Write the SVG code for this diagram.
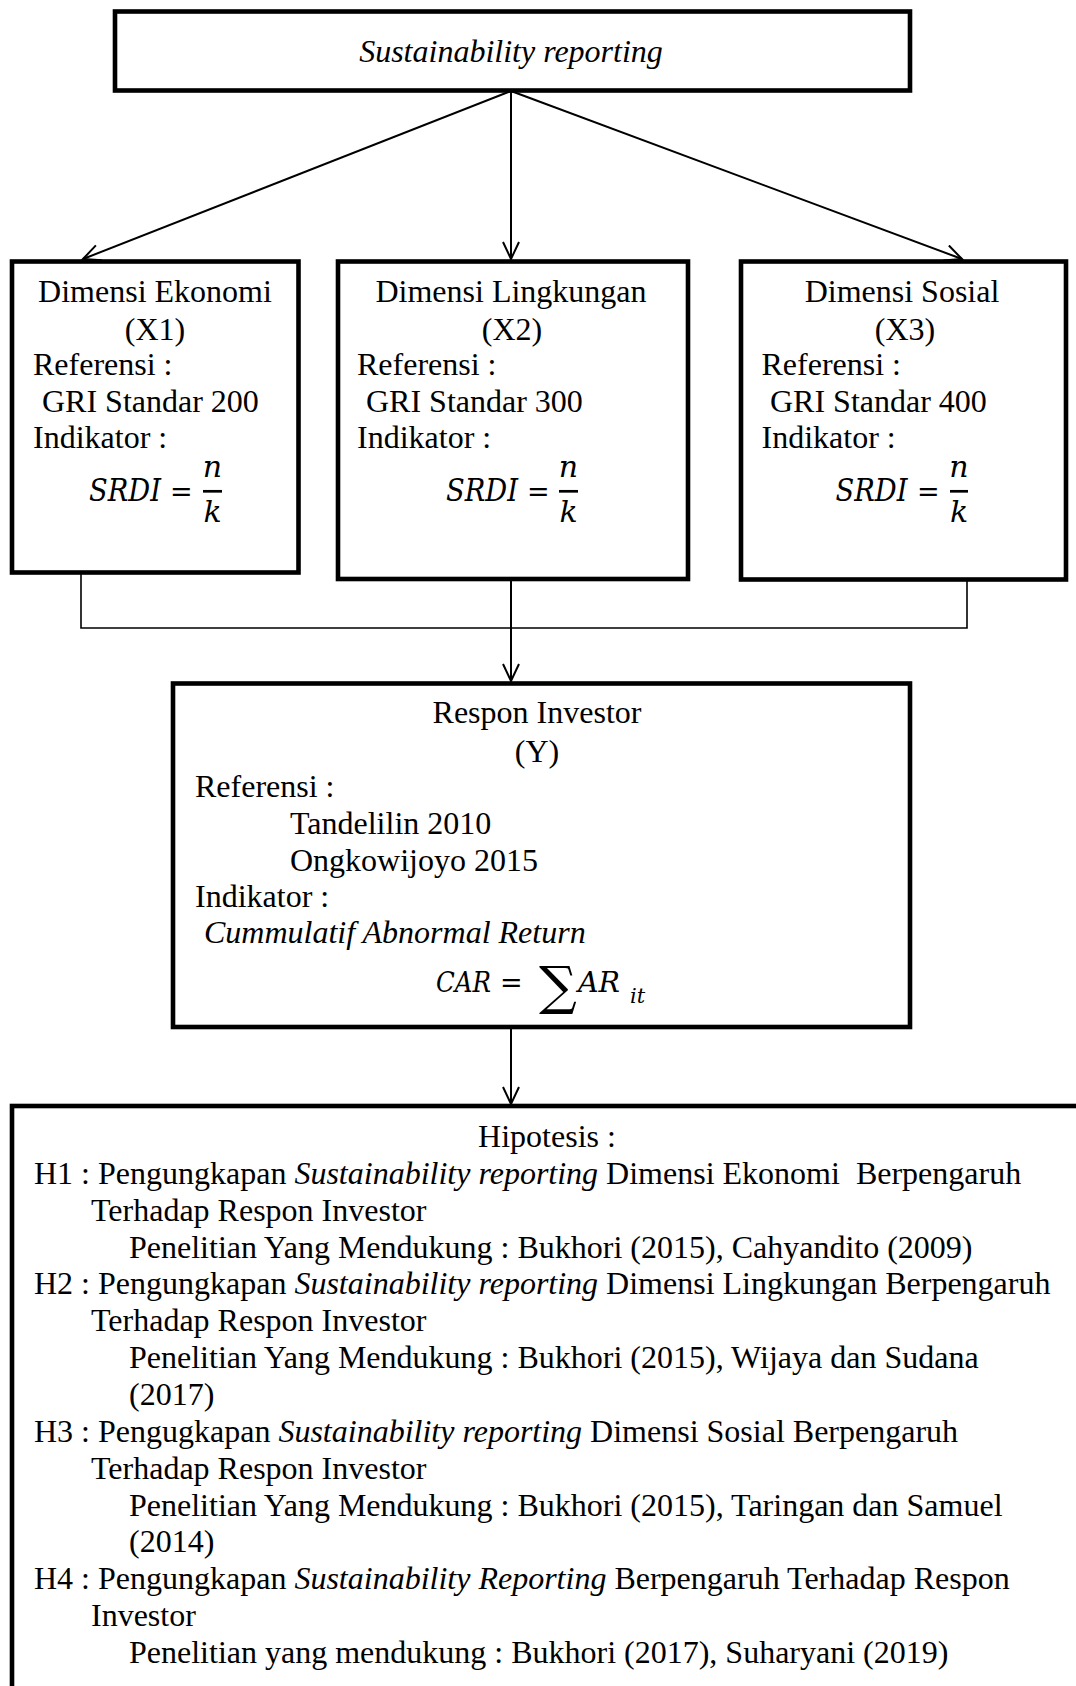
<svg xmlns="http://www.w3.org/2000/svg" width="1076" height="1686" viewBox="0 0 1076 1686">
<style>
.box{fill:#fff;stroke:#000;stroke-width:4.6}
.t{font-family:"Liberation Serif","Times New Roman",serif;font-size:32px;fill:#000;white-space:pre}
.c{text-anchor:middle}
.i{font-style:italic}
.m{font-family:"DejaVu Serif",serif;font-style:italic;font-size:27px;fill:#000}
.mr{font-family:"DejaVu Serif",serif;font-size:27px;fill:#000}
.s{font-size:32px}
.f{font-size:30px}
.ln{fill:none;stroke:#000;stroke-width:2}
.ln2{fill:none;stroke:#000;stroke-width:1.6}
.bar{stroke:#000;stroke-width:2.7}
</style>
<defs>
<marker id="arr" viewBox="0 0 20 18" refX="18" refY="9" markerWidth="20" markerHeight="18" markerUnits="userSpaceOnUse" orient="auto">
<path d="M1,1 L18,9 L1,17" fill="none" stroke="#000" stroke-width="2"/>
</marker>
</defs>

<g id="connectors">
<line class="ln" x1="511" y1="91" x2="83" y2="259" marker-end="url(#arr)"/>
<line class="ln" x1="511" y1="91" x2="511" y2="259" marker-end="url(#arr)"/>
<line class="ln" x1="511" y1="91" x2="962" y2="259" marker-end="url(#arr)"/>
<polyline class="ln2" points="81,573 81,628 967,628 967,580"/>
<line class="ln" x1="511" y1="580" x2="511" y2="681" marker-end="url(#arr)"/>
<line class="ln" x1="511" y1="1027" x2="511" y2="1104" marker-end="url(#arr)"/>
</g>

<g id="node-sr">
<rect class="box" x="115" y="11.5" width="795" height="79"/>
<text class="t i c" x="511" y="62">Sustainability reporting</text>
</g>

<g id="node-x1">
<rect class="box" x="12" y="261.5" width="286.5" height="311"/>
<text class="t c" x="155" y="302">Dimensi Ekonomi</text>
<text class="t c" x="155" y="340">(X1)</text>
<text class="t" x="33" y="375">Referensi :</text>
<text class="t" x="42" y="412">GRI Standar 200</text>
<text class="t" x="33" y="448">Indikator :</text>
<text class="m s" x="89" y="501" textLength="72" lengthAdjust="spacingAndGlyphs">SRDI</text>
<text class="mr" x="170" y="501">=</text>
<text class="m f c" x="212.5" y="477">n</text>
<line class="bar" x1="203" y1="491.3" x2="222" y2="491.3"/>
<text class="m f c" x="212.5" y="522">k</text>
</g>

<g id="node-x2">
<rect class="box" x="338" y="261.5" width="350" height="317.5"/>
<text class="t c" x="511" y="302">Dimensi Lingkungan</text>
<text class="t c" x="512" y="340">(X2)</text>
<text class="t" x="357" y="375">Referensi :</text>
<text class="t" x="366" y="412">GRI Standar 300</text>
<text class="t" x="357" y="448">Indikator :</text>
<text class="m s" x="446" y="501" textLength="72" lengthAdjust="spacingAndGlyphs">SRDI</text>
<text class="mr" x="527" y="501">=</text>
<text class="m f c" x="568.5" y="477">n</text>
<line class="bar" x1="559" y1="491.3" x2="578" y2="491.3"/>
<text class="m f c" x="568.5" y="522">k</text>
</g>

<g id="node-x3">
<rect class="box" x="741" y="261.5" width="325" height="318"/>
<text class="t c" x="902" y="302">Dimensi Sosial</text>
<text class="t c" x="905" y="340">(X3)</text>
<text class="t" x="761.5" y="375">Referensi :</text>
<text class="t" x="770" y="412">GRI Standar 400</text>
<text class="t" x="761.5" y="448">Indikator :</text>
<text class="m s" x="835.5" y="501" textLength="72" lengthAdjust="spacingAndGlyphs">SRDI</text>
<text class="mr" x="917" y="501">=</text>
<text class="m f c" x="959" y="477">n</text>
<line class="bar" x1="950" y1="491.3" x2="968" y2="491.3"/>
<text class="m f c" x="959" y="522">k</text>
</g>

<g id="node-y">
<rect class="box" x="173" y="683.5" width="737" height="343.5"/>
<text class="t c" x="537" y="723">Respon Investor</text>
<text class="t c" x="537" y="762">(Y)</text>
<text class="t" x="195" y="797">Referensi :</text>
<text class="t" x="290" y="834">Tandelilin 2010</text>
<text class="t" x="290" y="871">Ongkowijoyo 2015</text>
<text class="t" x="195" y="907">Indikator :</text>
<text class="t i" x="204" y="943">Cummulatif Abnormal Return</text>
<text class="m" x="436" y="992" textLength="55" lengthAdjust="spacingAndGlyphs">CAR</text>
<text class="mr" x="500" y="992">=</text>
<text class="mr" x="539" y="1004" style="font-size:53px">∑</text>
<text class="m" x="578" y="992" textLength="42" lengthAdjust="spacingAndGlyphs">AR</text>
<text class="m" x="630" y="1003" style="font-size:21px">it</text>
</g>

<g id="node-h">
<rect class="box" x="12" y="1106" width="1100" height="700"/>
<text class="t c" x="547" y="1147">Hipotesis :</text>
<text class="t" x="34" y="1183.9">H1 : Pengungkapan <tspan class="i">Sustainability reporting</tspan> Dimensi Ekonomi  Berpengaruh</text>
<text class="t" x="91" y="1220.7">Terhadap Respon Investor</text>
<text class="t" x="129" y="1257.6">Penelitian Yang Mendukung : Bukhori (2015), Cahyandito (2009)</text>
<text class="t" x="34" y="1294.4">H2 : Pengungkapan <tspan class="i">Sustainability reporting</tspan> Dimensi Lingkungan Berpengaruh</text>
<text class="t" x="91" y="1331.3">Terhadap Respon Investor</text>
<text class="t" x="129" y="1368.1">Penelitian Yang Mendukung : Bukhori (2015), Wijaya dan Sudana</text>
<text class="t" x="129" y="1405">(2017)</text>
<text class="t" x="34" y="1441.8">H3 : Pengugkapan <tspan class="i">Sustainability reporting</tspan> Dimensi Sosial Berpengaruh</text>
<text class="t" x="91" y="1478.7">Terhadap Respon Investor</text>
<text class="t" x="129" y="1515.5">Penelitian Yang Mendukung : Bukhori (2015), Taringan dan Samuel</text>
<text class="t" x="129" y="1552.4">(2014)</text>
<text class="t" x="34" y="1589.2">H4 : Pengungkapan <tspan class="i">Sustainability Reporting</tspan> Berpengaruh Terhadap Respon</text>
<text class="t" x="91" y="1626.1">Investor</text>
<text class="t" x="129" y="1662.9">Penelitian yang mendukung : Bukhori (2017), Suharyani (2019)</text>
</g>
</svg>
